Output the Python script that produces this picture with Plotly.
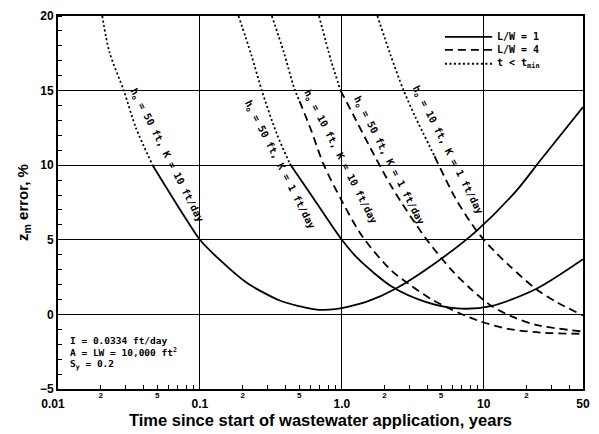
import plotly.graph_objects as go
import math

# ---- data (t in years, z_m error in %) ----
c1_dot_t = [0.0205, 0.023, 0.0292, 0.0354, 0.0464]
c1_dot_z = [20, 17.6, 14.95, 12.5, 10.0]
c1_sol_t = [0.0464, 0.075, 0.1, 0.14, 0.215, 0.365, 0.5, 0.63, 0.74, 0.9, 1.0, 1.5, 2.37, 4.8, 8.9, 17, 24.9, 50]
c1_sol_z = [10.0, 6.8, 5.0, 3.6, 2.1, 0.93, 0.55, 0.36, 0.3, 0.35, 0.42, 0.85, 1.7, 3.6, 5.6, 8.3, 10.3, 13.9]

c2_dot_t = [0.187, 0.23, 0.274, 0.348, 0.43]
c2_dot_z = [20, 17.4, 14.95, 12.1, 10.1]
c2_sol_t = [0.43, 0.66, 1.0, 1.31, 2.26, 3.83, 6.5, 11.2, 23.3, 50]
c2_sol_z = [10.1, 7.5, 5.0, 3.7, 1.85, 0.86, 0.4, 0.55, 1.7, 3.7]

c3_dot_t = [0.321, 0.389, 0.464, 0.503]
c3_dot_z = [20, 17.6, 15.1, 14.3]
c3_dash_t = [0.503, 0.61, 0.74, 1.0, 1.4, 2.2, 3.0, 4.3, 6.0, 9.0, 14.5, 25, 50]
c3_dash_z = [14.3, 12.3, 10.1, 7.6, 5.2, 3.0, 2.0, 1.0, 0.3, -0.4, -0.95, -1.22, -1.3]

c4_dot_t = [0.69, 0.84, 0.98]
c4_dot_z = [20, 17.0, 15.0]
c4_dash_t = [0.98, 1.2, 1.54, 2.26, 3.83, 5.9, 8.1, 11.2, 15.4, 23.3, 50]
c4_dash_z = [15.0, 13.4, 11.4, 8.5, 5.2, 3.0, 1.7, 0.6, -0.1, -0.7, -1.15]

c5_dot_t = [1.78, 2.2, 2.70, 3.27, 4.5]
c5_dot_z = [20, 17.4, 15.1, 13.3, 10.6]
c5_dash_t = [4.5, 6.3, 8.9, 11.7, 15.4, 23.3, 32.1, 50]
c5_dash_z = [10.6, 7.8, 5.6, 4.3, 3.2, 1.7, 0.86, -0.07]

curve_labels = [
    "h<sub>o</sub> = 50 ft, K = 10 ft/day",
    "h<sub>o</sub> = 50 ft, K = 1 ft/day",
    "h<sub>o</sub> = 10 ft, K = 10 ft/day",
    "h<sub>o</sub> = 50 ft, K = 1 ft/day",
    "h<sub>o</sub> = 10 ft, K = 1 ft/day",
]
label_t = [0.058, 0.365, 0.97, 2.12, 5.55]
label_z = [10.65, 10.0, 10.5, 10.3, 11.0]

major_vals = [0.01, 0.1, 1, 10, 50]
major_text = ["0.01\u00a0\u00a0\u00a0", "0.1", "1.0", "10", "50"]
minor_lab_vals = [0.02, 0.05, 0.2, 0.5, 2, 5, 20]
minor_lab_text = ["2", "5", "2", "5", "2", "5", "2"]
y_vals = [-5, 0, 5, 10, 15, 20]

legend_names = ["L/W = 1", "L/W = 4", "t &lt; t<sub>min</sub>"]
info_lines = ["I = 0.0334 ft/day", "A = LW = 10,000 ft<sup>2</sup>", "S<sub>y</sub> = 0.2"]

MONO = "DejaVu Sans Mono"
SANS = "Liberation Sans"
DOT = "2px,2.5px"
DASH = "8px,5px"
LW = 1.8
styles = ["solid", DASH, DOT]

fig = go.Figure()

def add(t, z, dash):
    fig.add_trace(go.Scatter(
        x=t, y=z, mode="lines",
        line=dict(color="black", width=LW, dash=dash, shape="spline", smoothing=0.8),
        showlegend=False, hoverinfo="skip"))

add(c1_dot_t, c1_dot_z, DOT)
add(c1_sol_t, c1_sol_z, "solid")
add(c2_dot_t, c2_dot_z, DOT)
add(c2_sol_t, c2_sol_z, "solid")
add(c3_dot_t, c3_dot_z, DOT)
add(c3_dash_t, c3_dash_z, DASH)
add(c4_dot_t, c4_dot_z, DOT)
add(c4_dash_t, c4_dash_z, DASH)
add(c5_dot_t, c5_dot_z, DOT)
add(c5_dash_t, c5_dash_z, DASH)

# invisible trace to carry the secondary x-axis (minor tick labels)
fig.add_trace(go.Scatter(x=[0.01, 50], y=[-5, -5], xaxis="x2", mode="lines",
                         line=dict(width=0), showlegend=False, hoverinfo="skip"))

for txt, t, z in zip(curve_labels, label_t, label_z):
    fig.add_annotation(x=math.log10(t), y=z, xref="x", yref="y", text=txt,
                       showarrow=False, textangle=63,
                       font=dict(family=MONO, size=10, color="black", weight="bold"))

# legend drawn as key lines + labels (tight spacing as in the original)
leg_y = [0.944, 0.909, 0.872]
for name, st, ly in zip(legend_names, styles, leg_y):
    fig.add_shape(type="line", xref="paper", yref="paper", x0=0.737, x1=0.827, y0=ly, y1=ly,
                  line=dict(color="black", width=LW, dash=st))
    fig.add_annotation(x=0.834, y=ly, xref="paper", yref="paper", xanchor="left", yanchor="middle",
                       showarrow=False, text=name, borderpad=0,
                       font=dict(family=MONO, size=10, color="black", weight="bold"))

info_y = [0.130, 0.098, 0.066]
for txt, iy in zip(info_lines, info_y):
    fig.add_annotation(x=0.02, y=iy, xref="paper", yref="paper", xanchor="left", yanchor="middle",
                       align="left", showarrow=False, text=txt, borderpad=0,
                       font=dict(family=MONO, size=9.5, color="black", weight="bold"))

xr = [math.log10(0.01), math.log10(50)]
minor_ticks = [k * 10 ** e for e in (-2, -1, 0, 1) for k in range(2, 10) if k * 10 ** e < 50]

fig.update_layout(
    width=599, height=434,
    margin=dict(l=58, r=9, t=14, b=43),
    paper_bgcolor="white", plot_bgcolor="white",
    font=dict(family=SANS, color="black"),
    showlegend=False,
    xaxis=dict(type="log", range=xr, tickvals=major_vals, ticktext=major_text,
               showgrid=True, gridcolor="black", gridwidth=1.3,
               showline=True, linecolor="black", linewidth=2, mirror=True,
               ticks="", ticklabelstandoff=3, tickfont=dict(family=SANS, size=12, weight="bold"),
               minor=dict(tickvals=minor_ticks, ticks="inside", ticklen=4,
                          tickcolor="black", showgrid=False),
               zeroline=False,
               title=dict(text="\u00a0\u00a0\u00a0Time since start of wastewater application, years",
                          font=dict(family=SANS, size=16.5, weight="bold"), standoff=2)),
    xaxis2=dict(type="log", range=xr, overlaying="x", side="bottom", anchor="y",
                tickvals=minor_lab_vals, ticktext=minor_lab_text, showgrid=False,
                showline=False, ticks="", zeroline=False,
                tickfont=dict(family=SANS, size=8, weight="bold")),
    yaxis=dict(range=[-5, 20], tickvals=y_vals, showgrid=True, gridcolor="black", gridwidth=1.3,
               showline=True, linecolor="black", linewidth=2, mirror=True, zeroline=False,
               ticks="", tickfont=dict(family=SANS, size=12, weight="bold"),
               minor=dict(dtick=1, ticks="inside", ticklen=4, tickcolor="black", showgrid=False),
               title=dict(text="z<sub>m</sub> error, %", font=dict(family=SANS, size=15, weight="bold"),
                          standoff=8)),
)

fig.write_html("out.html")
